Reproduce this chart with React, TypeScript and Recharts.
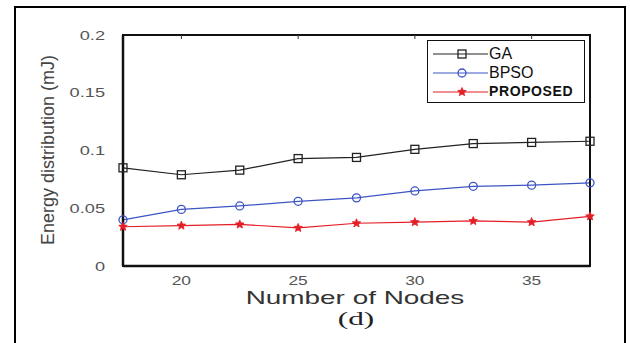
import { LineChart, Line, XAxis, YAxis, Legend, Label, ReferenceArea } from "recharts";

const nodes = [17.5, 20, 22.5, 25, 27.5, 30, 32.5, 35, 37.5];
const gaValues = [0.085, 0.079, 0.083, 0.093, 0.094, 0.101, 0.106, 0.107, 0.108];
const bpsoValues = [0.04, 0.049, 0.052, 0.056, 0.059, 0.065, 0.069, 0.07, 0.072];
const proposedValues = [0.034, 0.035, 0.036, 0.033, 0.037, 0.038, 0.039, 0.038, 0.043];
const xTicks = [20, 25, 30, 35];
const yTicks = [0, 0.05, 0.1, 0.15, 0.2];

const data = nodes.map((n, i) => ({
  n,
  ga: gaValues[i],
  bpso: bpsoValues[i],
  proposed: proposedValues[i],
}));

const GA_COLOR = "#222";
const BPSO_COLOR = "#3d55c4";
const PROP_COLOR = "#e41e26";
const FONT = "'Liberation Sans', Arial, sans-serif";

function starPoints(cx: number, cy: number, r: number) {
  const pts: string[] = [];
  for (let i = 0; i < 10; i++) {
    const rad = i % 2 === 0 ? r : r * 0.45;
    const a = (Math.PI / 5) * i - Math.PI / 2;
    pts.push(`${cx + rad * Math.cos(a)},${cy + rad * Math.sin(a)}`);
  }
  return pts.join(" ");
}

const squareDot = (p: any) => (
  <rect key={`s${p.index}`} x={p.cx - 4} y={p.cy - 4} width={8} height={8}
    fill="none" stroke={GA_COLOR} strokeWidth={1.3} />
);
const circleDot = (p: any) => (
  <circle key={`c${p.index}`} cx={p.cx} cy={p.cy} r={4} fill="none"
    stroke={BPSO_COLOR} strokeWidth={1.3} />
);
const starDot = (p: any) => (
  <polygon key={`p${p.index}`} points={starPoints(p.cx, p.cy, 4.5)}
    fill={PROP_COLOR} stroke={PROP_COLOR} strokeWidth={0.8} />
);

const legendItems = [
  { name: "GA", color: GA_COLOR, dot: squareDot, style: { fontSize: 16 } },
  { name: "BPSO", color: BPSO_COLOR, dot: circleDot, style: { fontSize: 16 } },
  {
    name: "PROPOSED",
    color: PROP_COLOR,
    dot: starDot,
    style: { fontSize: 14, fontWeight: 700, letterSpacing: 0.6 },
  },
];

const renderLegend = () => (
  <div
    style={{
      width: 158,
      height: 63,
      border: "1.5px solid #111",
      background: "#fff",
      boxSizing: "border-box",
      paddingTop: 3,
    }}
  >
    {legendItems.map((it) => (
      <div key={it.name} style={{ display: "flex", alignItems: "center", height: 19 }}>
        <svg width={56} height={12} style={{ marginLeft: 4 }}>
          <line x1={1} y1={6} x2={56} y2={6} stroke={it.color} strokeWidth={1.2} />
          {it.dot({ cx: 30, cy: 6, index: 0 })}
        </svg>
        <span
          style={{
            fontFamily: FONT,
            color: "#111",
            marginLeft: 1,
            lineHeight: "19px",
            ...it.style,
          }}
        >
          {it.name}
        </span>
      </div>
    ))}
  </div>
);

const YTick = (p: any) => (
  <g transform={`translate(${p.x},${p.y})`}>
    <text transform="scale(1.4,1)" textAnchor="end" dy="0.36em" fontSize={13}
      fontFamily={FONT} fill="#555">
      {p.payload.value}
    </text>
  </g>
);

const XTick = (p: any) => (
  <g transform={`translate(${p.x},${p.y})`}>
    <text transform="scale(1.45,1)" textAnchor="middle" dy="0.71em" fontSize={12}
      fontFamily={FONT} fill="#555">
      {p.payload.value}
    </text>
  </g>
);

const titles = () => (
  <g fontFamily={FONT}>
    <g transform="translate(355,304)">
      <text transform="scale(1.55,1)" textAnchor="middle" fontSize={18} fill="#333">
        Number of Nodes
      </text>
    </g>
    <g transform="translate(356,325)">
      <text transform="scale(1.65,1)" textAnchor="middle" fontSize={19} fill="#222"
        fontFamily="'Liberation Serif', 'Times New Roman', serif">
        (d)
      </text>
    </g>
    <text x={0} y={0} dy="0.35em" transform="translate(48,150) rotate(-90)"
      textAnchor="middle" fontSize={18} fill="#444">
      Energy distribution (mJ)
    </text>
  </g>
);

export default function App() {
  return (
    <div style={{ position: "absolute", left: 0, top: 0, width: 630, height: 343, background: "#fff", overflow: "hidden" }}>
      <div
        style={{
          position: "absolute",
          left: 14,
          top: 6,
          width: 612,
          height: 360,
          border: "2px solid #000",
          boxSizing: "border-box",
        }}
      />
      <div style={{ position: "absolute", left: 0, top: 0 }}>
        <LineChart
          width={630}
          height={343}
          data={data}
          margin={{ top: 35, right: 40, bottom: 47, left: 63 }}
        >
          <XAxis
            xAxisId="top"
            orientation="top"
            dataKey="n"
            type="number"
            domain={[17.5, 37.5]}
            ticks={xTicks}
            height={1}
            mirror
            tickSize={4}
            tickFormatter={() => ""}
            axisLine={{ stroke: "#111", strokeWidth: 2 }}
            tickLine={{ stroke: "#333" }}
          />
          <XAxis
            dataKey="n"
            type="number"
            domain={[17.5, 37.5]}
            ticks={xTicks}
            height={30}
            tick={XTick}
            tickLine={false}
            tickMargin={4}
            axisLine={{ stroke: "#111", strokeWidth: 2.5 }}
          >
            <Label content={titles} />
          </XAxis>
          <YAxis
            yAxisId="right"
            orientation="right"
            domain={[0, 0.2]}
            ticks={yTicks}
            width={1}
            mirror
            tickSize={4}
            tickFormatter={() => ""}
            axisLine={{ stroke: "#111", strokeWidth: 2 }}
            tickLine={{ stroke: "#333" }}
          />
          <YAxis
            domain={[0, 0.2]}
            ticks={yTicks}
            width={60}
            tick={YTick}
            tickLine={false}
            tickMargin={12}
            axisLine={{ stroke: "#111", strokeWidth: 2.5 }}
          />
          <ReferenceArea x1={17.5} x2={37.5} y1={0} y2={0.2} fill="none"
            stroke="#111" strokeWidth={2} />
          <Legend
            layout="horizontal"
            verticalAlign="middle"
            align="center"
            content={renderLegend}
            wrapperStyle={{ position: "absolute", left: 427, top: 40, width: 158 }}
          />
          <Line dataKey="ga" stroke={GA_COLOR} strokeWidth={1.2} dot={squareDot} isAnimationActive={false} />
          <Line dataKey="bpso" stroke={BPSO_COLOR} strokeWidth={1.2} dot={circleDot} isAnimationActive={false} />
          <Line dataKey="proposed" stroke={PROP_COLOR} strokeWidth={1.2} dot={starDot} isAnimationActive={false} />
        </LineChart>
      </div>
    </div>
  );
}
